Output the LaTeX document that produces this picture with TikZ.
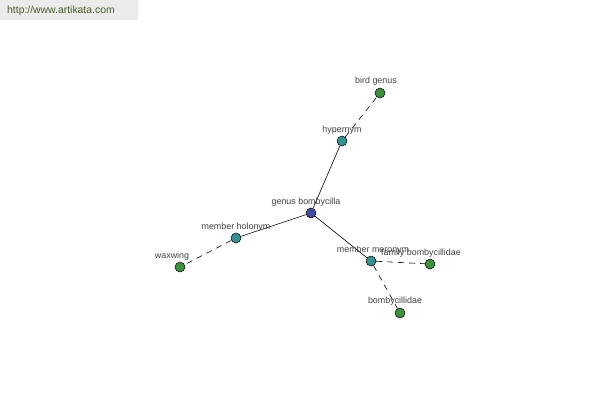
\documentclass[tikz,border=0pt]{standalone}
\usepackage{fontspec}
\setmainfont{Liberation Sans}
\definecolor{ngreen}{HTML}{3F8F3F}
\definecolor{nteal}{HTML}{3A9090}
\definecolor{nblue}{HTML}{434C9C}
\definecolor{urlc}{HTML}{4A5A2A}
\begin{document}
\begin{tikzpicture}[x=1pt,y=-1pt,
  dot/.style={circle,draw=black,line width=0.5pt,minimum size=10pt,inner sep=0pt},
  gdot/.style={dot,fill=ngreen},
  tdot/.style={dot,fill=nteal},
  bdot/.style={dot,fill=nblue},
  lbl/.style={font=\fontsize{8.9}{10}\selectfont,text=black!75,inner sep=0pt},
  rel/.style={line width=0.6pt},
  drel/.style={line width=0.6pt,dash pattern=on 6pt off 5pt}]
\useasboundingbox (0,0) rectangle (600,400);
\fill[black!8] (0,0) rectangle (138,20);
\node[font=\fontsize{10.4}{12}\selectfont,text=urlc,anchor=west,inner sep=0pt] (url) at (7,11) {http://www.artikata.com};
\node[bdot] (gb) at (311,213) {};
\node[tdot] (hy) at (342,141) {};
\node[gdot] (bg) at (380,93) {};
\node[tdot] (mh) at (236,238) {};
\node[gdot] (wx) at (180,267) {};
\node[tdot] (mm) at (371,261) {};
\node[gdot] (fb) at (430,264) {};
\node[gdot] (bo) at (400,313) {};
\draw[rel] (hy) -- (gb);
\draw[rel] (gb) -- (mh);
\draw[rel] (gb) -- (mm);
\draw[drel] (hy) -- (bg);
\draw[drel] (mh) -- (wx);
\draw[drel] (mm) -- (fb);
\draw[drel] (mm) -- (bo);
\node[lbl] (lbg) at (376,81) {bird genus};
\node[lbl] (lhy) at (342,130) {hypernym};
\node[lbl] (lgb) at (306,202) {genus bombycilla};
\node[lbl] (lmh) at (236,227) {member holonym};
\node[lbl] (lwx) at (172,256) {waxwing};
\node[lbl] (lmm) at (373,250) {member meronym};
\node[lbl] (lfb) at (421,253) {family bombycillidae};
\node[lbl] (lbo) at (395,301) {bombycillidae};
\end{tikzpicture}
\end{document}
